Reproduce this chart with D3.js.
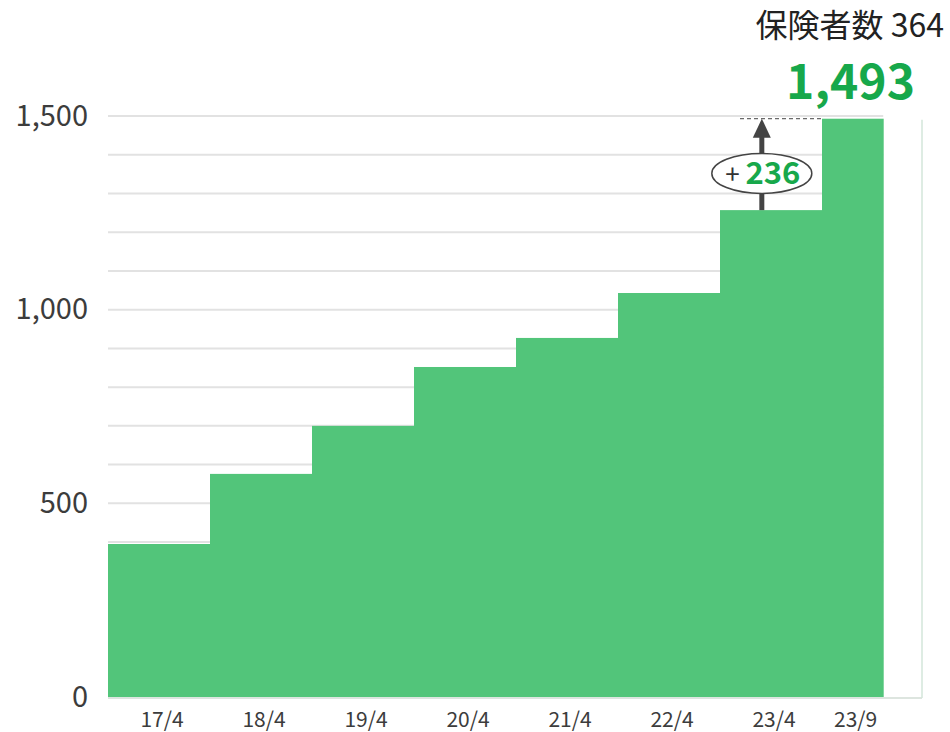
<!DOCTYPE html>
<html>
<head>
<meta charset="utf-8">
<script src="https://cdn.jsdelivr.net/npm/d3@7"></script>
<style>
  body { margin: 0; background: #fff; }
  svg text { font-family: "Noto Sans CJK JP", "Noto Sans", sans-serif; }
</style>
</head>
<body>
<div id="chart"></div>
<script>
// data
const periods = ["17/4", "18/4", "19/4", "20/4", "21/4", "22/4", "23/4", "23/9"];
const insured = [395, 576, 700, 852, 927, 1043, 1257, 1493];
const widths = [1, 1, 1, 1, 1, 1, 1, 0.6];
const yTicks = [0, 500, 1000, 1500];
const insurerCount = 364;

const width = 950, height = 732;
const plotLeft = 108, plotRight = 922, plotTop = 116, plotBottom = 697;
const green = "#52c57a", greenText = "#17a84b", ink = "#3c3c3c";

const svg = d3.select("#chart").append("svg")
  .attr("width", width)
  .attr("height", height);

// x in "period units" so the last half-year bar is narrower
const starts = widths.map((w, i) => d3.sum(widths.slice(0, i)));
const xScale = d3.scaleLinear().domain([0, 8]).range([plotLeft, plotLeft + 8 * 102]);
const yScale = d3.scaleLinear().domain([0, 1500]).range([plotBottom, plotTop]);

// gridlines every 100
const gridEnd = xScale(d3.sum(widths));
svg.append("g")
  .selectAll("line")
  .data(d3.range(100, 1501, 100))
  .enter().append("line")
  .attr("x1", plotLeft)
  .attr("x2", gridEnd)
  .attr("y1", d => yScale(d))
  .attr("y2", d => yScale(d))
  .attr("stroke", "#e2e2e2")
  .attr("stroke-width", 2);

// step bars
svg.append("g")
  .selectAll("rect")
  .data(insured)
  .enter().append("rect")
  .attr("x", (d, i) => xScale(starts[i]))
  .attr("width", (d, i) => xScale(starts[i] + widths[i]) - xScale(starts[i]) + 0.5)
  .attr("y", d => yScale(d))
  .attr("height", d => plotBottom - yScale(d))
  .attr("fill", green);

// frame: bottom axis line + right border
svg.append("line")
  .attr("x1", plotLeft).attr("x2", plotRight)
  .attr("y1", plotBottom + 1).attr("y2", plotBottom + 1)
  .attr("stroke", "#dde5df").attr("stroke-width", 2);
svg.append("line")
  .attr("x1", plotRight).attr("x2", plotRight)
  .attr("y1", yScale(1490)).attr("y2", plotBottom + 1)
  .attr("stroke", "#d3e6da").attr("stroke-width", 1.5);

// y axis labels
const yAxis = d3.axisLeft(yScale)
  .tickValues(yTicks)
  .tickFormat(d3.format(","))
  .tickSize(0)
  .tickPadding(20);
const yg = svg.append("g")
  .attr("transform", `translate(${plotLeft},0)`)
  .call(yAxis);
yg.select(".domain").remove();
yg.selectAll("text")
  .attr("font-size", 29)
  .attr("fill", ink)
  .attr("font-family", '"Noto Sans CJK JP", sans-serif');

// x axis labels
svg.append("g")
  .selectAll("text")
  .data(periods)
  .enter().append("text")
  .attr("x", (d, i) => xScale(starts[i] + widths[i] / 2) + 3)
  .attr("y", 727)
  .attr("text-anchor", "middle")
  .attr("font-size", 21)
  .attr("fill", ink)
  .text(d => d);

// header
svg.append("text")
  .attr("x", 944).attr("y", 37)
  .attr("text-anchor", "end")
  .attr("font-size", 32)
  .attr("fill", "#222")
  .text("保険者数 " + insurerCount);
svg.append("text")
  .attr("x", 915).attr("y", 99)
  .attr("text-anchor", "end")
  .attr("font-size", 48)
  .attr("font-weight", "bold")
  .attr("fill", greenText)
  .text(d3.format(",")(insured[7]));

// increase annotation between last two bars
const last = insured[7], prev = insured[6];
const ax = xScale(starts[6] + 0.41);
svg.append("line")
  .attr("x1", xScale(starts[6]) + 20).attr("x2", xScale(starts[7]))
  .attr("y1", yScale(last)).attr("y2", yScale(last))
  .attr("stroke", "#444").attr("stroke-width", 1)
  .attr("stroke-dasharray", "4,3");
svg.append("line")
  .attr("x1", ax).attr("x2", ax)
  .attr("y1", yScale(prev)).attr("y2", yScale(last) + 16)
  .attr("stroke", "#444").attr("stroke-width", 5);
svg.append("path")
  .attr("d", `M${ax},${yScale(last)} L${ax - 9},${yScale(last) + 19} L${ax + 9},${yScale(last) + 19} Z`)
  .attr("fill", "#444");
const ey = yScale((last + prev) / 2) + 9;
svg.append("ellipse")
  .attr("cx", ax).attr("cy", ey)
  .attr("rx", 50).attr("ry", 20)
  .attr("fill", "#fff")
  .attr("stroke", "#444").attr("stroke-width", 1.5);
const ann = svg.append("text")
  .attr("x", ax + 1).attr("y", ey + 11)
  .attr("text-anchor", "middle");
ann.append("tspan")
  .attr("font-size", 26).attr("fill", "#333")
  .text("+ ");
ann.append("tspan")
  .attr("font-size", 31).attr("font-weight", "bold").attr("fill", greenText)
  .text(last - prev);
</script>
</body>
</html>
